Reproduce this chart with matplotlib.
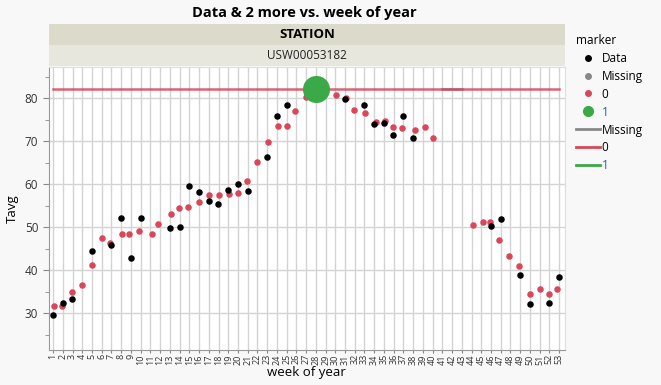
import matplotlib
matplotlib.use("Agg")
import matplotlib.pyplot as plt
from matplotlib.lines import Line2D

plt.rcParams['font.family'] = ['Open Sans', 'DejaVu Sans']

# Data (black) points - week of year (with jitter as seen) and Tavg
data_week = [1.0, 1.97, 2.95, 4.95, 7.0, 7.96, 9.0, 10.0, 13.0, 14.0, 14.98, 15.97,
             17.0, 17.96, 18.95, 19.98, 20.98, 22.96, 23.96, 24.99, 30.98, 32.96,
             33.96, 34.99, 35.98, 36.97, 37.97, 45.98, 46.98, 48.99, 49.99, 51.98, 53.0]
data_tavg = [29.6, 32.5, 33.3, 44.4, 46.0, 52.1, 43.0, 52.1, 49.8, 50.1, 59.6, 58.2,
             56.1, 55.4, 58.6, 60.2, 58.4, 66.3, 75.8, 78.5, 79.8, 78.4,
             74.0, 74.3, 71.5, 75.8, 70.8, 50.4, 51.9, 39.0, 32.1, 32.5, 38.4]

# marker 0 (red) points
zero_week = [1.1, 1.93, 2.95, 3.95, 4.95, 6.0, 6.86, 8.03, 8.8, 9.84, 11.14, 11.8,
             13.1, 13.9, 14.9, 16.0, 17.0, 18.0, 19.1, 19.95, 20.94, 21.97, 23.07,
             24.12, 25.05, 25.9, 26.97, 28.9, 30.05, 31.05, 31.94, 33.03, 34.17,
             35.06, 35.88, 36.84, 38.14, 39.17, 40.02, 44.13, 45.13, 45.85, 46.84,
             47.87, 48.86, 49.96, 51.02, 51.98, 52.8]
zero_tavg = [31.8, 31.8, 35.0, 36.7, 41.2, 47.5, 46.4, 48.4, 48.4, 49.1, 48.4, 50.7,
             53.2, 54.4, 54.7, 55.9, 57.6, 57.6, 57.7, 58.1, 60.8, 65.1, 69.8,
             73.6, 73.6, 77.1, 80.4, 81.2, 80.9, 80.1, 77.3, 76.7, 74.6,
             74.8, 73.3, 73.1, 72.7, 73.3, 70.8, 50.5, 51.2, 51.2, 47.0,
             43.3, 41.0, 34.6, 35.6, 34.4, 35.6]

# marker 1 (green) point
one_week = [28]
one_tavg = [82.1]

# reference lines
zero_line_weeks = [1, 53]
zero_line_val = 82.1
missing_line_weeks = [41, 43]

weeks = list(range(1, 54))

fig = plt.figure(figsize=(6.61, 3.85), dpi=100)
fig.patch.set_facecolor('#f8f8f8')

ax = fig.add_axes([0.0737, 0.091, 0.781, 0.735])
ax.set_facecolor('white')
ax.set_xlim(0.55, 53.6)
ax.set_ylim(21.5, 87.3)

ax.set_xticks(weeks)
ax.set_xticklabels([str(w) for w in weeks], rotation=90, fontsize=6.5, color='#333333')
ax.set_yticks([30, 40, 50, 60, 70, 80])
ax.set_yticks([25, 35, 45, 55, 65, 75, 85], minor=True)
ax.tick_params(axis='y', labelsize=8.5, colors='#333333', length=4, color='#888888')
ax.tick_params(axis='y', which='minor', length=3, color='#888888')
ax.tick_params(axis='x', length=2, color='#888888', pad=1)
ax.grid(True, which='major', color='#d3d3d3', linewidth=1)
ax.set_axisbelow(True)
for s in ['top', 'right']:
    ax.spines[s].set_color('#dddddd')
for s in ['left', 'bottom']:
    ax.spines[s].set_color('#999999')

ax.plot(missing_line_weeks, [zero_line_val] * 2, color='#888888', lw=1.8, zorder=2)
ax.plot(zero_line_weeks, [zero_line_val] * 2, color='#d9485a', lw=1.8, alpha=0.85, zorder=3)
ax.scatter(zero_week, zero_tavg, s=22, color='#d9485a', zorder=4, linewidths=0)
ax.scatter(data_week, data_tavg, s=22, color='black', zorder=5, linewidths=0)
ax.scatter(one_week, one_tavg, s=380, color='#3aaa48', zorder=6, linewidths=0)

ax.set_xlabel('week of year', fontsize=9.5, labelpad=1)
ax.set_ylabel('Tavg', fontsize=9.5)

# strip header
sax1 = fig.add_axes([0.0737, 0.883, 0.781, 0.055])
sax1.set_facecolor('#dcdacb')
sax1.text(0.5, 0.5, 'STATION', ha='center', va='center', fontsize=9.5, fontweight='bold')
sax2 = fig.add_axes([0.0737, 0.828, 0.781, 0.055])
sax2.set_facecolor('#e8e7dd')
sax2.text(0.5, 0.5, 'USW00053182', ha='center', va='center', fontsize=8.5, color='#222222')
for a in (sax1, sax2):
    a.set_xticks([])
    a.set_yticks([])
    for s in a.spines.values():
        s.set_visible(False)

fig.text(0.46, 0.965, 'Data & 2 more vs. week of year', ha='center', va='center',
         fontsize=10.5, fontweight='bold')

handles = [
    Line2D([], [], marker='o', color='black', ls='', markersize=4),
    Line2D([], [], marker='o', color='#888888', ls='', markersize=4),
    Line2D([], [], marker='o', color='#d9485a', ls='', markersize=4),
    Line2D([], [], marker='o', color='#3aaa48', ls='', markersize=7),
    Line2D([], [], color='#888888', lw=2),
    Line2D([], [], color='#d9485a', lw=2),
    Line2D([], [], color='#3aaa48', lw=2),
]
labels = ['Data', 'Missing', '0', '1', 'Missing', '0', '1']
leg = fig.legend(handles, labels, title='marker', loc='upper left',
                 bbox_to_anchor=(0.856, 0.94), frameon=False, fontsize=8.5,
                 title_fontsize=8.5, handlelength=2.0, handletextpad=0.15,
                 labelspacing=0.42, alignment='left')
for t, lab in zip(leg.get_texts(), labels):
    if lab == '1':
        t.set_color('#1f5fbf')

fig.savefig('out.png', dpi=100, facecolor=fig.get_facecolor())
